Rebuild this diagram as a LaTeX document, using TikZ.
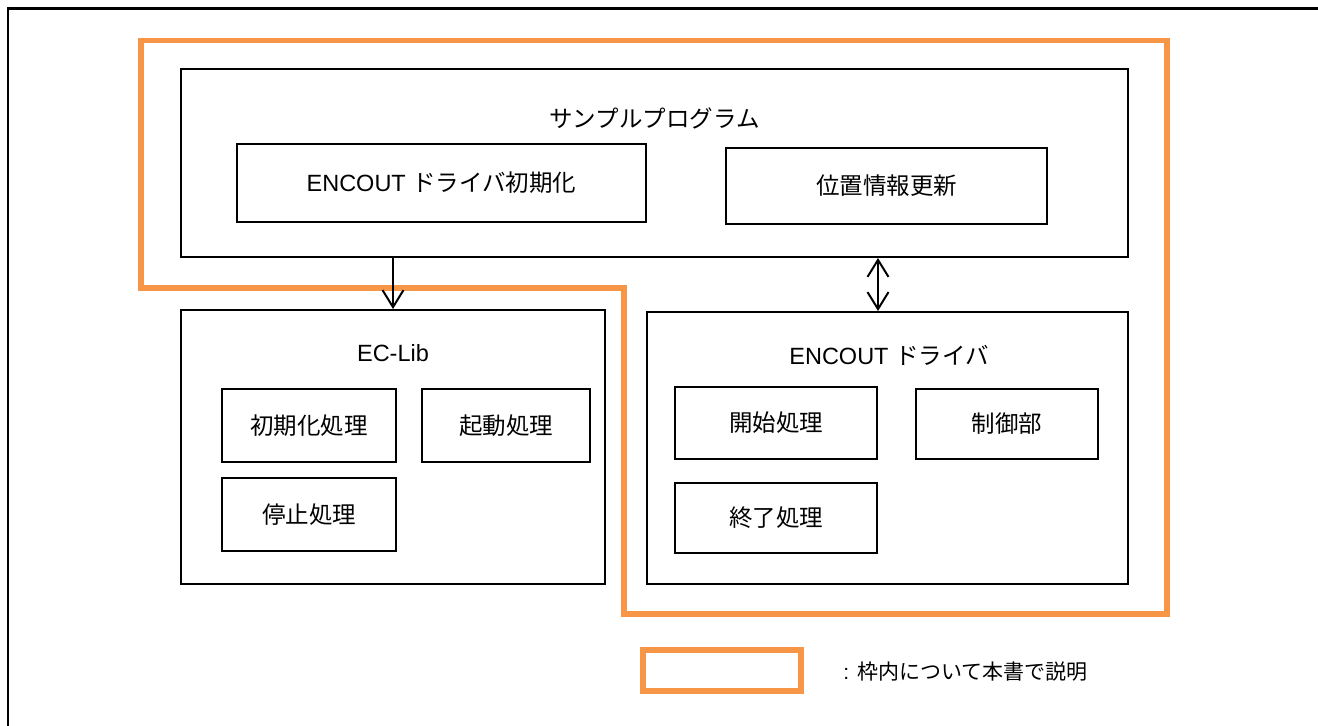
\documentclass[tikz,border=0pt]{standalone}
\usepackage{fontspec}
\setmainfont{Liberation Sans}
\newfontfamily\jpfont{Noto Sans CJK JP}
\newcommand{\jtext}[1]{{\jpfont #1}}
\usetikzlibrary{arrows.meta}
\definecolor{scopeorange}{RGB}{247,150,70}

\begin{document}
\begin{tikzpicture}[x=0.5pt, y=-0.5pt,
	box/.style={draw, line width=1pt, inner sep=0pt, font=\fontsize{11.75}{14}\selectfont},
	title/.style={inner sep=0pt, font=\fontsize{11.75}{14}\selectfont},
	arr/.style={line width=1pt, -{Straight Barb[length=8.5pt,width=10.5pt]}},
	dblarr/.style={line width=1pt, {Straight Barb[length=8.5pt,width=10.5pt]}-{Straight Barb[length=8.5pt,width=10.5pt]}}]

				\useasboundingbox (0,0) rectangle (1318,726);
				\draw[line width=1.3pt] (8,726) -- (8,8.5) -- (1318,8.5);
				\draw[scopeorange, line width=2.75pt] (141,40.5) -- (1167,40.5) -- (1167,614) -- (624,614) -- (624,288) -- (141,288) -- cycle;

				\node[box, minimum width=473.5pt, minimum height=94pt] (prog) at (654.5,163) {};
				\node[title] (progtitle) at (654.5,118) {\jtext{サンプルプログラム}};
				\node[box, minimum width=204.5pt, minimum height=39pt] (encinit) at (441.5,183) {ENCOUT \jtext{ドライバ初期化}};
				\node[box, minimum width=160.5pt, minimum height=38pt] (posupdate) at (886.5,186) {\jtext{位置情報更新}};

				\node[box, minimum width=212pt, minimum height=137pt] (eclib) at (393,447) {};
				\node[title] (eclibtitle) at (393,353) {EC-Lib};
				\node[box, minimum width=87pt, minimum height=36.5pt] (libinit) at (309,425.5) {\jtext{初期化処理}};
				\node[box, minimum width=84pt, minimum height=36.5pt] (libstart) at (506,425.5) {\jtext{起動処理}};
				\node[box, minimum width=87pt, minimum height=36.5pt] (libstop) at (309,514.5) {\jtext{停止処理}};

				\node[box, minimum width=240.5pt, minimum height=136pt] (driver) at (887.5,448) {};
				\node[title] (drivertitle) at (889,355) {ENCOUT \jtext{ドライバ}};
				\node[box, minimum width=101pt, minimum height=36pt] (drvstart) at (776,423) {\jtext{開始処理}};
				\node[box, minimum width=91pt, minimum height=35pt] (drvctrl) at (1007,424) {\jtext{制御部}};
				\node[box, minimum width=101pt, minimum height=35pt] (drvend) at (776,518) {\jtext{終了処理}};

				\draw[arr] (eclib.north |- prog.south) -- (eclib.north);
				\draw[dblarr] (drvstart.east |- prog.south) -- (drvstart.east |- driver.north);

				\node[draw=scopeorange, line width=2.75pt, minimum width=79pt, minimum height=20.5pt] (legendbox) at (722,670.5) {};
				\node[title, anchor=west, font=\fontsize{10.5}{13}\selectfont] (legendtext) at (843,672) {: \jtext{枠内について本書で説明}};

			\end{tikzpicture}
\end{document}
